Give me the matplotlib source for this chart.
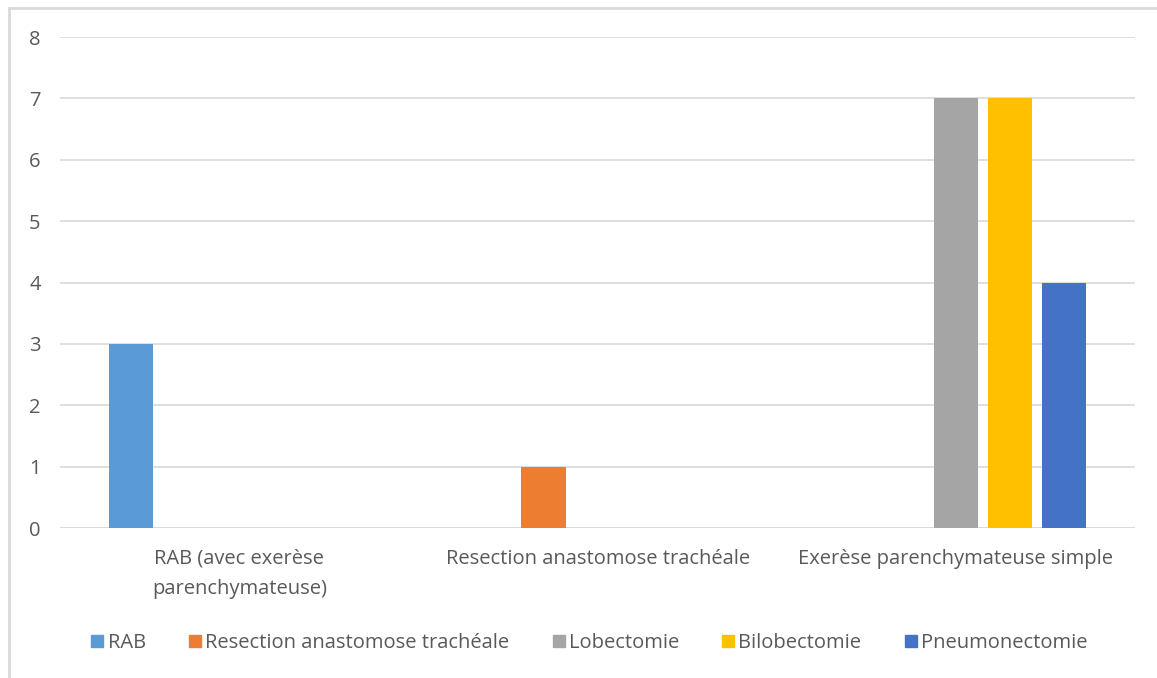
import matplotlib.pyplot as plt
import numpy as np
from matplotlib.lines import Line2D

categories = ["RAB (avec exerèse\nparenchymateuse)",
              "Resection anastomose trachéale",
              "Exerèse parenchymateuse simple"]
series_names = ["RAB", "Resection anastomose trachéale", "Lobectomie",
                "Bilobectomie", "Pneumonectomie"]
rab = [3, 0, 0]
resection = [0, 1, 0]
lobectomie = [0, 0, 7]
bilobectomie = [0, 0, 7]
pneumonectomie = [0, 0, 4]
colors = ["#5b9bd5", "#ed7d31", "#a5a5a5", "#ffc000", "#4472c4"]

plt.rcParams["font.family"] = ["Open Sans", "DejaVu Sans"]
text_color = "#595959"
grid_color = "#d9d9d9"
fs = 14.5

fig = plt.figure(figsize=(11.57, 6.78), dpi=100)
ax = fig.add_axes([0.052, 0.2212, 0.929, 0.7242])

x = np.arange(len(categories))
step = 0.151
width = 0.123
all_series = [rab, resection, lobectomie, bilobectomie, pneumonectomie]
for i, (vals, name, c) in enumerate(zip(all_series, series_names, colors)):
    ax.bar(x + (i - 2) * step, vals, width, color=c, label=name, zorder=3)

ax.set_xlim(-0.5, 2.5)
ax.set_ylim(0, 8)
ax.set_yticks(range(0, 9))
ax.grid(axis="y", color=grid_color, linewidth=1.2, zorder=0)
for s in ax.spines.values():
    s.set_visible(False)
ax.axhline(0, color=grid_color, linewidth=1.2, zorder=2)
ax.tick_params(length=0, colors=text_color, labelsize=fs)
ax.tick_params(axis="y", pad=14)
ax.tick_params(axis="x", pad=15)
ax.set_xticks(x)
ax.set_xticklabels(categories, va="top", ha="center", linespacing=1.7)
for lbl in ax.get_xticklabels() + ax.get_yticklabels():
    lbl.set_color(text_color)

handles = [Line2D([], [], marker="s", linestyle="none", markersize=8.5,
                  markerfacecolor=c, markeredgecolor=c) for c in colors]
fig.legend(handles, series_names, loc="center", bbox_to_anchor=(0.508, 0.052),
           ncol=5, frameon=False, fontsize=fs, labelcolor=text_color,
           handletextpad=0.05, columnspacing=2.0, handlelength=0.9)

# partial outer frame (left and top edges)
fig.add_artist(Line2D([0.0078, 0.0078], [0, 0.988], transform=fig.transFigure,
                      color="#d9d9d9", linewidth=2))
fig.add_artist(Line2D([0.0078, 1], [0.988, 0.988], transform=fig.transFigure,
                      color="#d9d9d9", linewidth=2))

fig.savefig("out.png", dpi=100, facecolor="white")
